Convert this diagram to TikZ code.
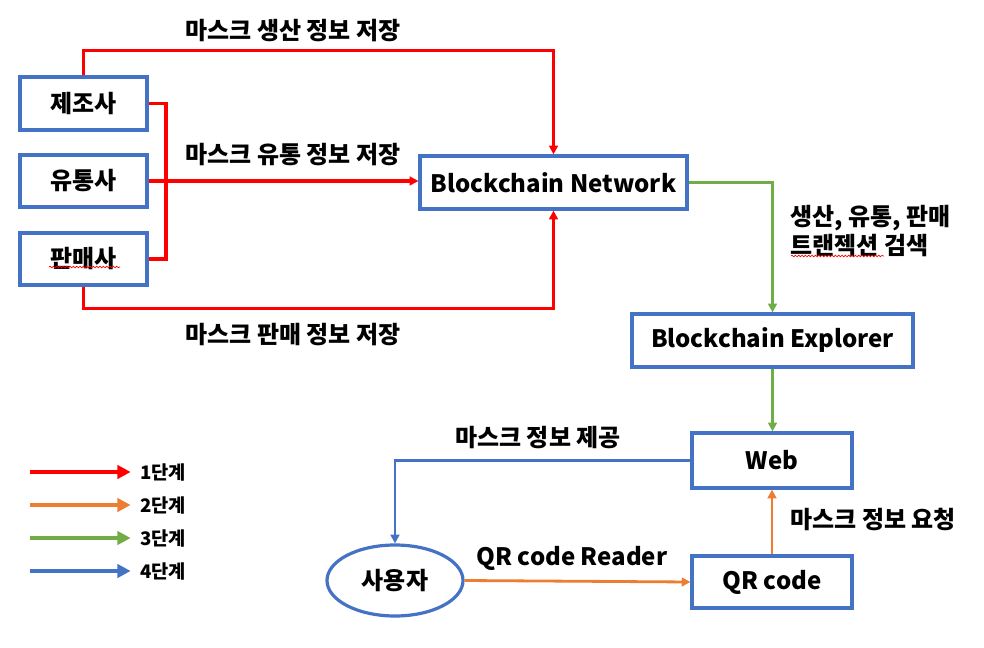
\documentclass[tikz,border=0pt]{standalone}
\usepackage{fontspec}
\setmainfont{Noto Sans CJK KR}
\usetikzlibrary{arrows.meta,decorations.pathmorphing,shapes.geometric}
\definecolor{cred}{HTML}{FF0000}
\definecolor{corange}{HTML}{ED7D31}
\definecolor{cgreen}{HTML}{70AD47}
\definecolor{cblue}{HTML}{4472C4}
\tikzset{
  box/.style={draw=cblue, line width=2.4pt, fill=white, inner sep=0pt,
    font=\bfseries\fontsize{18}{22}\selectfont},
  lbl/.style={inner sep=0pt, font=\bfseries\fontsize{18}{22}\selectfont},
  leg/.style={inner sep=0pt, anchor=west, font=\bfseries\fontsize{14}{16}\selectfont},
  conn/.style={line width=2.1pt, -{Triangle[length=6.5pt,width=6.5pt]}},
  plain/.style={line width=2.1pt},
  legarrow/.style={line width=3pt, -{Triangle[length=10pt,width=10pt]}},
  squig/.style={draw=cred, line width=0.5pt, decorate,
    decoration={snake, segment length=2.5pt, amplitude=0.6pt}}
}
\begin{document}
\begin{tikzpicture}[x=0.75pt,y=-0.75pt]
\useasboundingbox (0,0) rectangle (984,648);

% boxes
\node[box, minimum width=95.25pt, minimum height=39.75pt] (mfr) at (83.5,103.5) {제조사};
\node[box, minimum width=95.25pt, minimum height=39pt] (dist) at (83.5,181) {유통사};
\node[box, minimum width=95.25pt, minimum height=39pt] (sell) at (83.5,259) {판매사};
\node[box, minimum width=200.25pt, minimum height=39.75pt] (bn) at (553.5,182.5) {Blockchain Network};
\node[box, minimum width=210.75pt, minimum height=39.75pt] (be) at (772.5,340.5) {Blockchain Explorer};
\node[box, minimum width=120pt, minimum height=41.25pt] (web) at (772,460.5) {Web};
\node[box, minimum width=120pt, minimum height=39pt] (qr) at (772,582) {QR code};
\node[box, ellipse, minimum width=102pt, minimum height=53.25pt] (user) at (395,580.5) {사용자};

% red connectors
\draw[conn, cred, line width=2.4pt] (mfr.north) -- ++(0,-25) -| (bn.north);
\coordinate (j) at (166,181);
\draw[plain, cred, line width=2.4pt] (mfr.east) -| (j) |- (sell.east);
\draw[conn, cred, line width=2.4pt] (dist.east) -- (dist.east -| bn.west);
\draw[conn, cred, line width=2.4pt] (sell.south) -- ++(0,22) -| (bn.south);

% green connectors
\draw[conn, cgreen] (bn.east) -| (be.north);
\draw[conn, cgreen] (be.south) -- (be.south |- web.north);

% orange connectors
\draw[conn, corange] (user.east) -- (qr.west);
\draw[conn, corange] (qr.north) -- (web.south);

% blue connector
\draw[conn, cblue] (web.west) -| (user.north);

% labels
\node[lbl] (t1) at (293,31) {마스크 생산 정보 저장};
\node[lbl] (t2) at (293,155) {마스크 유통 정보 저장};
\node[lbl] (t3) at (293,335) {마스크 판매 정보 저장};
\node[lbl, anchor=west, align=left] (t4) at (790,231) {생산, 유통, 판매\\트랜젝션 검색};
\node[lbl] (t5) at (538,438) {마스크 정보 제공};
\node[lbl, anchor=west] (t6) at (790,520) {마스크 정보 요청};
\node[lbl] (t7) at (572,558) {QR code Reader};

% spell-check squiggles
\draw[squig] (49,267) -- (120,267);
\draw[squig] (791,256) -- (884,256);

% legend
\coordinate (s1) at (30,472); \node[leg] (l1) at (140,472) {1단계};
\coordinate (s2) at (30,505); \node[leg] (l2) at (140,505) {2단계};
\coordinate (s3) at (30,538); \node[leg] (l3) at (140,538) {3단계};
\coordinate (s4) at (30,571); \node[leg] (l4) at (140,571) {4단계};
\draw[legarrow, cred] (s1) -- ([xshift=-7pt]l1.west);
\draw[legarrow, corange] (s2) -- ([xshift=-7pt]l2.west);
\draw[legarrow, cgreen] (s3) -- ([xshift=-7pt]l3.west);
\draw[legarrow, cblue] (s4) -- ([xshift=-7pt]l4.west);
\end{tikzpicture}
\end{document}
